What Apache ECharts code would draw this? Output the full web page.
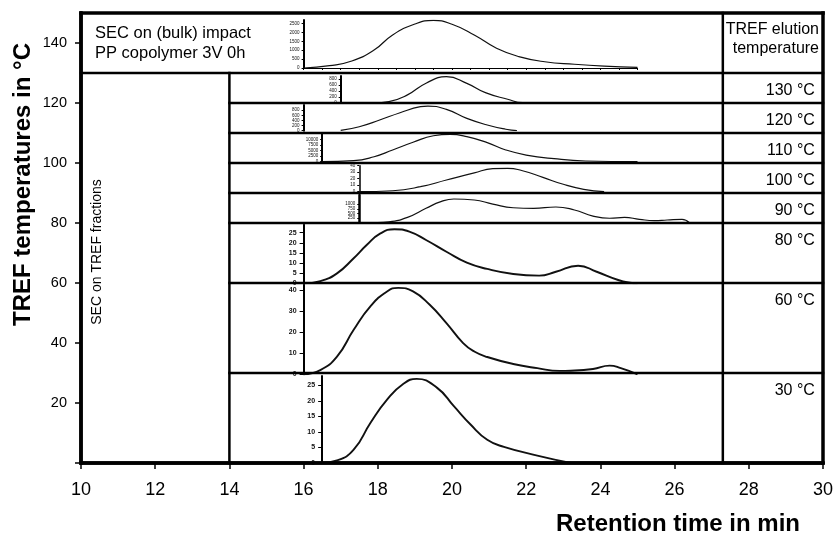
<!DOCTYPE html>
<html>
<head>
<meta charset="utf-8">
<script src="https://cdn.jsdelivr.net/npm/echarts@6/dist/echarts.min.js"></script>
<style>
  html, body { margin: 0; padding: 0; background: #fff; }
  #chart { width: 835px; height: 536px; }
</style>
</head>
<body>
<div id="chart"></div>
<script>
// ---- Data: SEC traces (retention time in min, detector signal) ----
const bulkTime   = [16.0, 16.7, 17.3, 17.9, 18.4, 19.0, 19.5, 20.0, 20.6, 21.2, 21.8, 22.5, 23.3, 24.1, 25.0];
const bulkSignal = [0, 130, 390, 1010, 1860, 2475, 2680, 2460, 1860, 1110, 640, 350, 210, 110, 40];
const bulkTicks  = [0, 500, 1000, 1500, 2000, 2500];

const t130Time   = [17.9, 18.3, 18.8, 19.3, 19.85, 20.4, 20.9, 21.5, 21.9, 22.9];
const t130Signal = [0, 45, 270, 660, 877, 655, 345, 125, 10, 0];
const t130Ticks  = [0, 200, 400, 600, 800];

const t120Time   = [17.0, 17.5, 18.05, 18.6, 19.15, 19.35, 19.85, 20.4, 20.95, 21.45, 21.75];
const t120Signal = [10, 155, 415, 700, 935, 960, 830, 480, 220, 55, 0];
const t120Ticks  = [0, 200, 400, 600, 800];

const t110Time   = [16.5, 17.35, 17.9, 18.4, 18.95, 19.5, 19.95, 20.4, 20.95, 21.45, 22.0, 22.75, 23.6, 25.0];
const t110Signal = [0, 450, 2250, 5280, 8750, 11700, 12300, 11300, 8600, 5300, 3000, 1350, 320, 0];
const t110Ticks  = [0, 2500, 5000, 7500, 10000];

const t100Time   = [17.5, 18.4, 19.15, 19.85, 20.6, 21.1, 21.5, 21.9, 22.45, 23.0, 23.55, 24.1];
const t100Signal = [0, 1.5, 7.7, 18, 29, 35.4, 36, 32.3, 22, 11.4, 3.7, 0];
const t100Ticks  = [0, 10, 20, 30, 40];

const t90Time    = [18.0, 18.3, 18.8, 19.3, 19.7, 20.05, 20.6, 21.1, 21.65, 22.2, 22.8, 23.3, 23.8, 24.25, 24.65, 25.05, 25.45, 25.8, 26.2, 26.4];
const t90Signal  = [0, 40, 290, 780, 1140, 1285, 1230, 1010, 810, 780, 850, 690, 360, 240, 290, 185, 110, 145, 185, 0];
const t90Ticks   = [0, 250, 500, 750, 1000, 1250];

const t80Time    = [16.0, 16.45, 16.9, 17.35, 17.7, 18.05, 18.45, 18.85, 19.3, 19.85, 20.4, 20.95, 21.65, 22.35, 22.8, 23.4, 23.9, 24.5, 24.8, 25.0];
const t80Signal  = [0, 1.1, 4.9, 12.4, 18.9, 24.4, 26.7, 25.5, 21.4, 15.6, 10.2, 7.1, 4.6, 3.8, 5.7, 8.7, 5.7, 1.5, 0.3, 0];
const t80Ticks   = [0, 5, 10, 15, 20, 25];

const t60Time    = [16.0, 16.45, 16.9, 17.35, 17.8, 18.25, 18.55, 18.95, 19.4, 19.85, 20.3, 20.6, 20.95, 21.65, 22.3, 22.9, 23.2, 23.8, 24.25, 24.55, 25.0];
const t60Signal  = [0, 2.0, 8.4, 21.1, 32.2, 39.3, 41.0, 39.3, 33.0, 24.3, 14.8, 10.8, 8.2, 4.9, 2.9, 1.6, 1.7, 2.5, 4.1, 2.9, 0];
const t60Ticks   = [0, 10, 20, 30, 40];

const t30Time    = [16.5, 16.9, 17.35, 17.8, 18.25, 18.7, 19.05, 19.6, 20.05, 20.5, 20.95, 21.4, 22.3, 23.2];
const t30Signal  = [0, 0.8, 4.3, 12.9, 20.4, 25.6, 27.1, 24.2, 18.3, 12.4, 7.5, 5.2, 2.4, 0];
const t30Ticks   = [0, 5, 10, 15, 20, 25];

// TREF fraction rows (elution temperature label, row span on the °C axis)
const tempLabels = ['130 °C', '120 °C', '110 °C', '100 °C', '90 °C', '80 °C', '60 °C', '30 °C'];
const rowTops    = [130, 120, 110, 100, 90, 80, 60, 30];
const rowBottoms = [120, 110, 100, 90, 80, 60, 30, 0];

// Main axes
const xTicks = [10, 12, 14, 16, 18, 20, 22, 24, 26, 28, 30];
const yTicks = [20, 40, 60, 80, 100, 120, 140];

// ---- Layout ----
const W = 835, H = 536;
const G = { left: 81, right: 12, top: 13, bottom: 73 };
const X0 = 10, X1 = 30, Y0 = 0, Y1 = 150;
const FONT = '"Liberation Sans", Arial, Helvetica, sans-serif';
const px = x => G.left + (x - X0) / (X1 - X0) * (W - G.left - G.right);
const py = v => G.top + (Y1 - v) / (Y1 - Y0) * (H - G.top - G.bottom);

// Each inset: its own small axis (axisAt), extent on the main °C scale, signal range
const panels = [
  { time: bulkTime, signal: bulkSignal, ticks: bulkTicks, axisAt: 16,   xEnd: 25,   base: 131.67, top: 147.67, yMax: 2700,  big: false, showX: true,  axisW: 2 },
  { time: t130Time, signal: t130Signal, ticks: t130Ticks, axisAt: 17,   xEnd: 23,   base: 120.0,  top: 129.0,  yMax: 900,   big: false, axisW: 2 },
  { time: t120Time, signal: t120Signal, ticks: t120Ticks, axisAt: 16,   xEnd: 22,   base: 110.77, top: 119.33, yMax: 1000,  big: false, axisW: 2 },
  { time: t110Time, signal: t110Signal, ticks: t110Ticks, axisAt: 16.5, xEnd: 25,   base: 100.43, top: 109.67, yMax: 12500, big: false, axisW: 2 },
  { time: t100Time, signal: t100Signal, ticks: t100Ticks, axisAt: 17.5, xEnd: 24.5, base: 90.43,  top: 99.1,   yMax: 40,    big: false, axisW: 1.5 },
  { time: t90Time,  signal: t90Signal,  ticks: t90Ticks,  axisAt: 17.5, xEnd: 26.5, base: 80.1,   top: 89.33,  yMax: 1500,  big: false, axisW: 2.5 },
  { time: t80Time,  signal: t80Signal,  ticks: t80Ticks,  axisAt: 16,   xEnd: 25,   base: 59.9,   top: 79.47,  yMax: 29,    big: true,  axisW: 2 },
  { time: t60Time,  signal: t60Signal,  ticks: t60Ticks,  axisAt: 16,   xEnd: 25,   base: 29.57,  top: 59.43,  yMax: 42.5,  big: true,  axisW: 2 },
  { time: t30Time,  signal: t30Signal,  ticks: t30Ticks,  axisAt: 16.5, xEnd: 25,   base: 0,      top: 28.97,  yMax: 28,    big: true,  axisW: 2 }
];

// Frame and row separators, in main-axis units
const FRAME_W = 3.5, SEP_W = 2.5;
const segments = [
  [X0, Y1, X1, Y1, FRAME_W],
  [X1, Y0, X1, Y1, FRAME_W],
  [X0, Y0, X0, Y1, FRAME_W],
  [X0, Y0, X1, Y0, FRAME_W],
  [X0, 130, X1, 130, SEP_W],
  [14, Y0, 14, 130, SEP_W],
  [27.3, Y0, 27.3, Y1, SEP_W]
];
rowBottoms.forEach(b => { if (b > Y0) segments.push([14, b, X1, b, SEP_W]); });

const grids = [{ left: G.left, right: G.right, top: G.top, bottom: G.bottom, containLabel: false, outerBoundsMode: 'none' }];
const xAxes = [{
  gridIndex: 0, type: 'value', min: X0, max: X1, interval: 2,
  axisLine: { show: true, lineStyle: { color: '#000', width: FRAME_W } },
  axisTick: { show: true, length: 6, inside: false, lineStyle: { color: '#000', width: 1.5 }, customValues: xTicks },
  axisLabel: { show: true, customValues: xTicks, fontSize: 18, fontFamily: FONT, color: '#000', margin: 18 },
  splitLine: { show: false }
}];
const yAxes = [{
  gridIndex: 0, type: 'value', min: Y0, max: Y1, interval: 20,
  axisLine: { show: true, lineStyle: { color: '#000', width: FRAME_W } },
  axisTick: { show: true, length: 6, inside: false, lineStyle: { color: '#000', width: 1.5 }, customValues: [0].concat(yTicks) },
  axisLabel: { show: true, customValues: yTicks, fontSize: 14.5, fontFamily: FONT, color: '#000', margin: 14 },
  splitLine: { show: false }
}];

const series = [];

panels.forEach((p, k) => {
  const gi = k + 1;
  grids.push({
    left: px(p.axisAt), right: W - px(p.xEnd),
    top: py(p.top), bottom: H - py(p.base),
    containLabel: false, outerBoundsMode: 'none'
  });
  xAxes.push({
    gridIndex: gi, type: 'value', min: p.axisAt, max: p.xEnd,
    interval: 0.5,
    show: !!p.showX,
    axisLine: { show: true, lineStyle: { color: '#000', width: 1 } },
    axisTick: { show: true, length: 2, inside: false, lineStyle: { color: '#000', width: 1 } },
    axisLabel: { show: false },
    splitLine: { show: false }
  });
  yAxes.push({
    gridIndex: gi, type: 'value', min: 0, max: p.yMax,
    axisLine: { show: true, lineStyle: { color: '#000', width: p.axisW } },
    axisTick: { show: true, length: p.big ? 4 : 2, inside: false, customValues: p.ticks, lineStyle: { color: '#000', width: 1 } },
    axisLabel: {
      show: true, customValues: p.ticks,
      formatter: v => String(v),
      fontSize: p.big ? 7 : 4.5, fontWeight: p.big ? 'bold' : 'normal',
      fontFamily: FONT, color: '#111', margin: p.big ? 7 : 4
    },
    splitLine: { show: false }
  });
  series.push({
    type: 'line', xAxisIndex: gi, yAxisIndex: gi,
    data: p.time.map((t, i) => [t, p.signal[i]]),
    symbol: 'none', showSymbol: false,
    smooth: 0.5,
    lineStyle: { color: '#111', width: p.big ? 1.9 : 1.2 },
    z: 2
  });
});

// Frame lines drawn in main-axis coordinates
series.push({
  type: 'custom', xAxisIndex: 0, yAxisIndex: 0, z: 5, clip: false,
  data: segments,
  renderItem: (params, api) => {
    const a = api.coord([api.value(0), api.value(1)]);
    const b = api.coord([api.value(2), api.value(3)]);
    return {
      type: 'line',
      shape: { x1: a[0], y1: a[1], x2: b[0], y2: b[1] },
      style: { stroke: '#000', lineWidth: api.value(4), lineCap: 'square' }
    };
  }
});

// Elution temperature labels, right column (anchored near the top of each row)
series.push({
  type: 'custom', xAxisIndex: 0, yAxisIndex: 0, z: 6, clip: false, silent: true,
  data: tempLabels.map((t, i) => [29.78, rowTops[i] - 6, i]),
  renderItem: (params, api) => {
    const p = api.coord([api.value(0), api.value(1)]);
    return {
      type: 'text',
      x: p[0], y: p[1],
      style: {
        text: tempLabels[api.value(2)],
        fontSize: 16, fontFamily: FONT, fill: '#000',
        align: 'right', verticalAlign: 'middle'
      }
    };
  }
});

const chart = echarts.init(document.getElementById('chart'), null, { renderer: 'canvas', width: W, height: H });
chart.setOption({
  animation: false,
  backgroundColor: '#fff',
  grid: grids,
  xAxis: xAxes,
  yAxis: yAxes,
  series: series,
  graphic: [
    { type: 'text', x: 95, y: 43.3, z: 10,
      style: { text: 'SEC on (bulk) impact\nPP copolymer 3V 0h', fontSize: 16.5, fontFamily: FONT, fill: '#000',
               align: 'left', verticalAlign: 'middle', lineHeight: 20 } },
    { type: 'text', x: 819, y: 39, z: 10,
      style: { text: 'TREF elution\ntemperature', fontSize: 16, fontFamily: FONT, fill: '#000',
               align: 'right', verticalAlign: 'middle', lineHeight: 19 } },
    { type: 'text', x: 97, y: 252, rotation: Math.PI / 2, z: 10,
      style: { text: 'SEC on TREF fractions', fontSize: 14, fontFamily: FONT, fill: '#000',
               align: 'center', verticalAlign: 'middle' } },
    { type: 'text', x: 23.5, y: 184.5, rotation: Math.PI / 2, z: 10,
      style: { text: 'TREF temperatures in °C', fontSize: 24, fontWeight: 'bold', fontFamily: FONT, fill: '#000',
               align: 'center', verticalAlign: 'middle' } },
    { type: 'text', x: 678, y: 524, z: 10,
      style: { text: 'Retention time in min', fontSize: 24, fontWeight: 'bold', fontFamily: FONT, fill: '#000',
               align: 'center', verticalAlign: 'middle' } }
  ]
});
</script>
</body>
</html>
